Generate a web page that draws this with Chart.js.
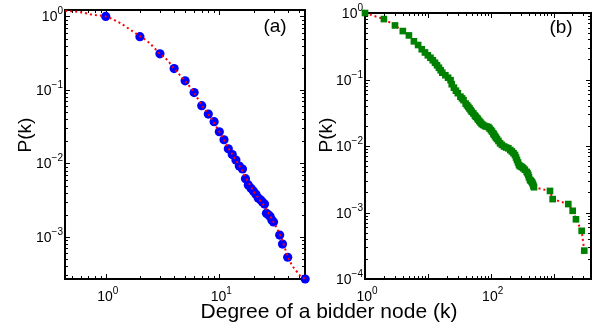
<!DOCTYPE html>
<html>
<head>
<meta charset="utf-8">
<script src="https://cdn.jsdelivr.net/npm/chart.js@4"></script>
<style>
  body { margin: 0; background: #fff; width: 608px; height: 331px; overflow: hidden; position: relative; }
  canvas { position: absolute; top: 0; }
  #left { left: 0; }
  #right { left: 312px; }
  #xtitle {
    position: absolute; left: 329px; top: 299px; transform: translateX(-50%);
    font: 21px "Liberation Sans", Arial, sans-serif; color: #000; white-space: nowrap;
  }
</style>
</head>
<body>
<canvas id="left" width="312" height="331"></canvas>
<canvas id="right" width="296" height="331"></canvas>
<div id="xtitle">Degree of a bidder node (k)</div>
<script>
// panel (a): degree distribution points and fitted curve
const kA = [1, 2, 3, 4, 5, 6, 7, 8, 9, 10, 11, 12, 13, 14, 15, 16, 17, 18, 19, 20,
  21, 22, 23, 24, 25, 26, 27, 28, 29, 30, 34, 36, 40, 57];
const pA = [1.0, 0.53, 0.31, 0.195, 0.133, 0.092, 0.061, 0.047, 0.037, 0.027, 0.021, 0.0158,
  0.0132, 0.0111, 0.0092, 0.0084, 0.0062, 0.0051, 0.0046, 0.0042, 0.0038, 0.0034, 0.0032,
  0.0030, 0.0028, 0.0021, 0.0020, 0.0019, 0.0017, 0.0016, 0.00106, 0.0008, 0.00053, 0.000268];
const fitKA = [0.44, 0.6, 0.78, 1, 1.34, 1.69, 2, 2.37, 3, 3.44, 4, 5, 6, 7, 8, 10, 12, 15,
  20, 25, 30, 35, 40, 43.4, 47.3, 51.3, 57];
const fitPA = [1.19, 1.14, 1.05, 1.0, 0.81, 0.64, 0.54, 0.45, 0.31, 0.26, 0.195, 0.132, 0.092,
  0.062, 0.047, 0.027, 0.0162, 0.0093, 0.0042, 0.0026, 0.0016, 0.00098, 0.00055, 0.00042,
  0.00035, 0.0003, 0.000268];

// panel (b)
const kB = [1, 2, 3, 4, 5, 6, 7, 8, 9, 10, 11, 12, 13, 14, 15, 16, 17, 19, 21, 23, 24, 26, 28,
  30, 33, 35, 37, 40, 42, 44, 46, 48, 50, 53, 56, 58, 61, 63, 66, 69, 72, 76, 81, 86, 92, 96,
  101, 105, 110, 113, 117, 121, 126, 133, 141, 151, 163, 176, 191, 205, 218, 231,
  244, 253, 262, 272, 282, 292, 303, 316, 330, 350, 374, 385, 397, 407, 422, 435, 449, 460,
  471, 480, 489,
  879, 969, 1718, 2017, 2277, 2806, 3085];
const pB = [1.0, 0.81, 0.65, 0.535, 0.46, 0.375, 0.33, 0.285, 0.255, 0.2313, 0.2122, 0.1948,
  0.1786, 0.1638, 0.1502, 0.1378, 0.1265, 0.116, 0.1064, 0.0976, 0.085, 0.0754, 0.0679,
  0.0623, 0.0552, 0.052, 0.0489, 0.0434, 0.041, 0.0388, 0.0367, 0.0346, 0.0327, 0.0309,
  0.0287, 0.0275, 0.0263, 0.025, 0.0237, 0.0225, 0.0214, 0.0207, 0.01995, 0.0196, 0.01927,
  0.0183, 0.01738, 0.0165, 0.0155, 0.0148, 0.01413, 0.0134, 0.01273, 0.0119, 0.01098,
  0.0104, 0.00983, 0.0095, 0.00924, 0.0087, 0.00827, 0.0078,
  0.00733, 0.00672, 0.00617, 0.00566, 0.00519, 0.005, 0.00493, 0.0048, 0.00463, 0.0044,
  0.00408, 0.0039, 0.00367, 0.00337, 0.00309, 0.003, 0.00289, 0.0028, 0.00265, 0.0025, 0.0024,
  0.00211, 0.00159, 0.00134, 0.00106, 0.00079, 0.00053, 0.000267];

const FONT = '"Liberation Sans", Arial, sans-serif';

function toXY(ks, ps) {
  return ks.map((k, i) => ({ x: k, y: ps[i] }));
}

function drawPow(ctx, exp, x, y, align) {
  // "10" with a raised exponent; x is center (bottom labels) or right edge (left labels)
  const sup = exp < 0 ? '\u2212' + (-exp) : String(exp);
  ctx.font = '14px ' + FONT;
  const w1 = ctx.measureText('10').width;
  ctx.font = '10px ' + FONT;
  const w2 = ctx.measureText(sup).width;
  let x0 = align === 'center' ? x - (w1 + w2) / 2 : x - w1 - w2;
  ctx.textAlign = 'left';
  ctx.textBaseline = 'alphabetic';
  ctx.font = '14px ' + FONT;
  ctx.fillText('10', x0, y);
  ctx.font = '10px ' + FONT;
  ctx.fillText(sup, x0 + w1, y - 7);
}

// matlab style box, inward ticks and 10^n labels
const logAxes = {
  id: 'logAxes',
  beforeDatasetsDraw(chart, args, opts) {
    const { ctx, chartArea: a, scales: { x, y } } = chart;
    ctx.save();
    ctx.strokeStyle = '#000';
    ctx.fillStyle = '#000';
    ctx.lineWidth = 1;

    const ticks = (sc) => {
      const out = [];
      for (let e = -5; e <= 4; e++) {
        for (let m = 1; m <= 9; m++) {
          const v = m * Math.pow(10, e);
          if (v >= sc.min * 0.999 && v <= sc.max * 1.001) out.push({ v, major: m === 1, e });
        }
      }
      return out;
    };

    ctx.beginPath();
    ticks(x).forEach(t => {
      const px = Math.round(x.getPixelForValue(t.v)) + 0.5;
      const len = t.major ? 5 : 3;
      ctx.moveTo(px, a.bottom); ctx.lineTo(px, a.bottom - len);
      ctx.moveTo(px, a.top); ctx.lineTo(px, a.top + len);
    });
    ticks(y).forEach(t => {
      const py = Math.round(y.getPixelForValue(t.v)) + 0.5;
      const len = t.major ? 5 : 3;
      ctx.moveTo(a.left, py); ctx.lineTo(a.left + len, py);
      ctx.moveTo(a.right, py); ctx.lineTo(a.right - len, py);
    });
    ctx.stroke();

    ctx.lineWidth = 2;
    ctx.strokeRect(a.left, a.top, a.right - a.left, a.bottom - a.top);

    ticks(x).filter(t => t.major && opts.xLabels.includes(t.e)).forEach(t => {
      drawPow(ctx, t.e, x.getPixelForValue(t.v) + 2, a.bottom + 22, 'center');
    });
    ticks(y).filter(t => t.major).forEach(t => {
      drawPow(ctx, t.e, a.left - 2, y.getPixelForValue(t.v) + 5, 'right');
    });

    ctx.font = '19px ' + FONT;
    ctx.textAlign = 'center';
    ctx.textBaseline = 'middle';
    ctx.fillText(opts.letter, opts.letterX, opts.letterY);

    ctx.translate(opts.titleX, 135);
    ctx.rotate(-Math.PI / 2);
    ctx.fillText('P(k)', 0, 0);
    ctx.restore();
  }
};

const redDots = {
  borderColor: '#ff0000',
  borderWidth: 2,
  borderDash: [2, 3],
  pointRadius: 0,
  showLine: true,
  fill: false,
  clip: false
};

function makeChart(id, datasets, xr, yr, pad, axOpts) {
  return new Chart(document.getElementById(id), {
    type: 'scatter',
    data: { datasets },
    plugins: [logAxes],
    options: {
      responsive: false,
      animation: false,
      events: [],
      layout: { padding: pad },
      scales: {
        x: { type: 'logarithmic', min: xr[0], max: xr[1], display: false },
        y: { type: 'logarithmic', min: yr[0], max: yr[1], display: false }
      },
      plugins: { legend: { display: false }, tooltip: { enabled: false }, logAxes: axOpts }
    }
  });
}

makeChart('left', [
  Object.assign({ data: toXY(fitKA, fitPA), cubicInterpolationMode: 'monotone' }, redDots),
  {
    data: toXY(kA, pA),
    pointRadius: 4.6,
    pointBackgroundColor: '#0000ff',
    pointBorderWidth: 0,
    showLine: false,
    clip: false
  }
], [0.438, 56.8], [0.000268, 1.222], { left: 65, right: 7, top: 10, bottom: 52 },
  { letter: '(a)', letterX: 275, letterY: 27, titleX: 26, xLabels: [0, 1] });

makeChart('right', [
  {
    data: toXY(kB, pB),
    pointStyle: 'rect',
    pointRadius: 4.7,
    pointBackgroundColor: '#008000',
    pointBorderWidth: 0,
    showLine: false,
    clip: false
  },
  Object.assign({ data: toXY(kB, pB) }, redDots)
], [1, 3950], [0.0001, 1], { left: 53, right: 17, top: 13, bottom: 52 },
  { letter: '(b)', letterX: 249, letterY: 28, titleX: 15, xLabels: [0, 2] });
</script>
</body>
</html>
